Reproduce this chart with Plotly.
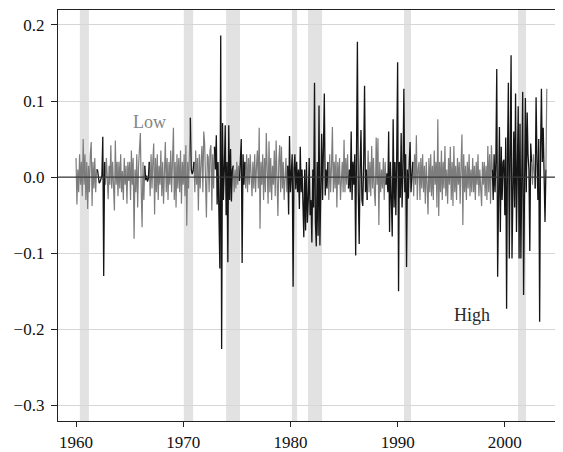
import pandas as pd
import plotly.graph_objects as go

# ---------------- data (monthly, Jan 1960 - Dec 2003) ----------------
START_MONTH = "1960-01-01"

VALUES_1960S = [
    0.025, -0.036, 0.01, -0.02, 0.03, -0.01, 0.02, -0.025, 0.05, -0.01, 0.03, -0.03,      # 1960
    0.02, -0.042, 0.015, -0.02, 0.03, 0.046, -0.038, 0.02, -0.015, 0.025, -0.02, 0.01,    # 1961
    0.01, -0.004, -0.008, -0.006, -0.003, 0.002, 0.053, -0.13, 0.02, -0.01, 0.025, -0.02, # 1962
    -0.029, 0.015, -0.01, 0.042, -0.015, 0.02, -0.02, -0.044, 0.048, -0.01, 0.02, -0.025, # 1963
    0.02, -0.015, 0.03, -0.02, 0.008, -0.03, 0.025, -0.01, 0.015, -0.035, 0.02, -0.005,   # 1964
    0.02, -0.03, 0.035, -0.01, 0.025, -0.081, 0.01, -0.02, 0.03, -0.04, 0.015, 0.03,      # 1965
    0.058, -0.02, -0.066, 0.02, -0.03, 0.015, -0.004, 0.002, -0.006, -0.002, 0.02, -0.025, # 1966
    0.03, -0.015, 0.02, 0.044, -0.049, 0.025, -0.02, 0.03, -0.03, 0.015, -0.01, 0.035,    # 1967
    -0.025, 0.02, -0.035, 0.01, 0.046, -0.02, 0.025, -0.03, 0.02, -0.01, 0.035, -0.02,    # 1968
    0.015, 0.065, -0.03, 0.02, -0.04, 0.03, -0.015, 0.025, -0.02, 0.035, -0.035, 0.02,    # 1969
]
VALUES_1970S = [
    -0.01, 0.03, -0.025, 0.042, -0.064, 0.02, -0.015, 0.03, 0.078, 0.01, 0.004, 0.008,   # 1970
    0.02, -0.02, 0.035, -0.01, 0.025, -0.044, 0.03, -0.015, 0.02, 0.041, -0.02, 0.06,     # 1971
    0.044, -0.01, -0.053, 0.03, 0.026, -0.02, 0.035, 0.042, -0.044, 0.03, -0.015, 0.04,   # 1972
    0.01, 0.055, -0.036, 0.02, -0.03, -0.12, 0.186, -0.226, 0.071, -0.03, 0.01, 0.068,    # 1973
    -0.05, 0.02, -0.112, 0.068, -0.03, 0.037, -0.032, 0.01, 0.015, -0.02, 0.01, -0.015,   # 1974
    0.02, -0.01, 0.015, -0.005, 0.02, 0.05, -0.113, 0.03, -0.01, 0.02, -0.015, 0.03,      # 1975
    -0.02, 0.025, -0.01, 0.03, 0.005, -0.025, 0.02, -0.015, 0.03, -0.02, 0.015, 0.035,    # 1976
    -0.015, 0.065, -0.068, 0.02, -0.01, 0.03, -0.03, 0.025, -0.02, 0.058, 0.01, -0.035,   # 1977
    0.047, -0.02, 0.025, -0.03, 0.015, -0.01, 0.035, -0.025, 0.048, 0.01, -0.051, 0.02,   # 1978
    0.042, -0.02, 0.04, -0.015, 0.02, -0.03, 0.01, 0.025, -0.02, 0.015, -0.049, 0.054,    # 1979
]
VALUES_1980S = [
    -0.02, 0.005, 0.03, -0.144, 0.01, 0.03, -0.016, 0.02, -0.02, 0.01, -0.042, 0.04,      # 1980
    -0.02, 0.01, -0.04, -0.079, 0.01, -0.07, 0.02, -0.06, -0.03, 0.025, -0.05, -0.03,     # 1981
    -0.086, 0.01, -0.04, 0.124, -0.06, -0.091, 0.02, -0.077, 0.094, -0.09, -0.02, 0.057,  # 1982
    -0.03, 0.058, 0.11, -0.024, 0.01, -0.015, 0.02, -0.03, 0.03, -0.02, 0.015, 0.066,     # 1983
    -0.02, 0.02, -0.015, 0.03, -0.04, 0.02, -0.01, 0.025, -0.03, 0.01, 0.02, -0.02,       # 1984
    0.049, -0.02, 0.025, -0.01, 0.03, -0.015, 0.01, -0.02, 0.06, -0.03, 0.02, -0.01,      # 1985
    0.03, -0.103, 0.02, 0.178, -0.02, -0.088, 0.01, 0.062, -0.03, -0.038, 0.02, 0.12,     # 1986
    -0.02, 0.01, -0.03, 0.035, -0.02, 0.02, -0.025, 0.041, -0.015, 0.025, -0.02, -0.038,  # 1987
    0.052, -0.01, 0.051, -0.063, 0.02, -0.02, 0.01, -0.015, 0.025, -0.03, 0.02, -0.01,    # 1988
    0.005, -0.02, 0.06, -0.072, 0.02, -0.03, -0.078, 0.076, -0.04, 0.02, -0.05, 0.03,     # 1989
]
VALUES_1990S = [
    0.151, -0.15, 0.02, -0.027, 0.058, -0.04, 0.005, 0.116, -0.02, 0.03, -0.118, 0.01,    # 1990
    -0.028, 0.02, 0.046, -0.02, 0.005, 0.02, -0.025, 0.03, -0.01, 0.055, -0.03, 0.01,     # 1991
    0.02, -0.03, 0.025, -0.015, 0.03, -0.02, 0.015, -0.035, 0.02, -0.01, -0.049, 0.025,   # 1992
    -0.02, 0.03, -0.025, 0.015, -0.03, 0.035, -0.01, 0.02, -0.04, 0.076, -0.051, 0.02,    # 1993
    -0.02, 0.035, -0.03, 0.02, -0.015, 0.041, -0.025, 0.01, -0.035, 0.025, -0.01, 0.04,   # 1994
    -0.03, 0.02, -0.038, 0.041, -0.02, 0.015, -0.03, 0.025, -0.01, 0.02, -0.035, 0.015,   # 1995
    0.056, -0.063, 0.03, -0.02, 0.015, -0.03, 0.02, -0.015, 0.03, -0.025, 0.01, -0.02,    # 1996
    0.025, -0.02, 0.015, -0.03, 0.02, -0.01, 0.03, -0.025, 0.01, -0.015, -0.038, 0.02,    # 1997
    -0.01, 0.02, -0.025, 0.015, -0.03, 0.041, -0.02, 0.03, -0.035, 0.042, 0.01, -0.03,    # 1998
    0.03, -0.02, 0.02, 0.142, -0.131, 0.03, 0.066, -0.072, 0.04, -0.03, 0.02, 0.023,      # 1999
]
VALUES_2000S = [
    -0.05, 0.052, -0.173, 0.03, 0.124, -0.107, 0.05, 0.16, -0.107, 0.03, 0.06, -0.04,     # 2000
    0.11, -0.072, 0.05, 0.093, -0.107, 0.07, -0.107, 0.04, 0.112, -0.155, 0.062, 0.104,   # 2001
    -0.02, 0.085, 0.03, 0.01, -0.097, 0.044, 0.02, -0.01, 0.03, 0.005, -0.015, 0.105,     # 2002
    0.02, -0.03, 0.05, -0.19, 0.03, 0.116, 0.02, 0.065, 0.0, -0.059, 0.01, 0.116,         # 2003
]

# months classified in the high-volatility regime (inclusive start/end)
HIGH_REGIME = [
    ("1962-02", "1962-08"), ("1966-07", "1966-10"), ("1970-10", "1970-12"),
    ("1973-01", "1974-08"), ("1975-05", "1975-09"), ("1979-11", "1983-06"),
    ("1985-07", "1987-02"), ("1989-01", "1991-05"), ("1998-12", "2002-06"),
    ("2002-12", "2003-10"),
]

# recession periods (shaded), as drawn in the chart
RECESSIONS = [
    ("1960-05-10", "1961-03-15"), ("1970-01-20", "1970-12-05"),
    ("1974-01-01", "1975-04-20"), ("1980-02-20", "1980-08-15"),
    ("1981-08-20", "1982-12-15"), ("1990-08-05", "1991-04-01"),
    ("2001-03-25", "2001-12-25"),
]

X_TICK_YEARS = [1960, 1970, 1980, 1990, 2000]
Y_TICK_VALUES = [-0.3, -0.2, -0.1, 0.0, 0.1, 0.2]
Y_TICK_LABELS = ["\u22120.3", "\u22120.2", "\u22120.1", "0.0", "0.1", "0.2"]

LABEL_LOW = ("Low", "1966-11-15", 0.073)
LABEL_HIGH = ("High", "1996-12-01", -0.181)

# ---------------- build ----------------
values = VALUES_1960S + VALUES_1970S + VALUES_1980S + VALUES_1990S + VALUES_2000S
dates = pd.date_range(START_MONTH, periods=len(values), freq="MS")

high = pd.Series(False, index=dates)
for a, b in HIGH_REGIME:
    high[(dates >= pd.Timestamp(a)) & (dates <= pd.Timestamp(b))] = True

n = len(values)
gray_y, black_y = [], []
for i in range(n):
    h = bool(high.iloc[i])
    gray_y.append(None if h else values[i])
    near_high = h or (i > 0 and high.iloc[i - 1]) or (i < n - 1 and high.iloc[i + 1])
    black_y.append(values[i] if near_high else None)

FONT = "Liberation Serif"
fig = go.Figure()
fig.add_trace(go.Scatter(x=dates, y=gray_y, mode="lines",
                         line=dict(color="#7d7d7d", width=1.2),
                         connectgaps=False, hoverinfo="skip", showlegend=False))
fig.add_trace(go.Scatter(x=dates, y=black_y, mode="lines",
                         line=dict(color="#151515", width=1.3),
                         connectgaps=False, hoverinfo="skip", showlegend=False))

shapes = []
for a, b in RECESSIONS:
    shapes.append(dict(type="rect", xref="x", yref="paper", x0=a, x1=b, y0=0, y1=1,
                       fillcolor="#e2e2e2", line=dict(width=0), layer="below"))
shapes.append(dict(type="line", xref="paper", yref="y", x0=0, x1=1, y0=0, y1=0,
                   line=dict(color="#3a3a3a", width=1.3), layer="above"))

annotations = [
    dict(text=LABEL_LOW[0], x=LABEL_LOW[1], y=LABEL_LOW[2], xref="x", yref="y",
         showarrow=False, font=dict(family=FONT, size=18, color="#858585")),
    dict(text=LABEL_HIGH[0], x=LABEL_HIGH[1], y=LABEL_HIGH[2], xref="x", yref="y",
         showarrow=False, font=dict(family=FONT, size=18, color="#2a2a2a")),
]

# page body has an 8px margin: the figure is sized/margined to compensate
fig.update_layout(
    width=555, height=444,
    margin=dict(l=50, r=0, t=2, b=21),
    paper_bgcolor="white", plot_bgcolor="white",
    font=dict(family=FONT, size=17, color="#111"),
    shapes=shapes, annotations=annotations, showlegend=False,
)
fig.update_xaxes(
    type="date", range=["1958-04-27", "2005-06-05"],
    tickvals=[f"{y}-01-01" for y in X_TICK_YEARS],
    ticktext=[str(y) for y in X_TICK_YEARS],
    ticks="outside", ticklen=5, tickcolor="#222", showgrid=False,
    showline=True, linecolor="#222", linewidth=1.3, mirror=True, zeroline=False,
    tickfont=dict(family=FONT, size=17),
)
fig.update_yaxes(
    range=[-0.3205, 0.2196], tickvals=Y_TICK_VALUES, ticktext=Y_TICK_LABELS,
    ticks="outside", ticklen=6, tickcolor="#222",
    showgrid=True, gridcolor="#d6d6d6", gridwidth=1,
    showline=True, linecolor="#222", linewidth=1.3, zeroline=False,
    tickfont=dict(family=FONT, size=17), ticklabelstandoff=3,
)

fig.write_html("out.html")
